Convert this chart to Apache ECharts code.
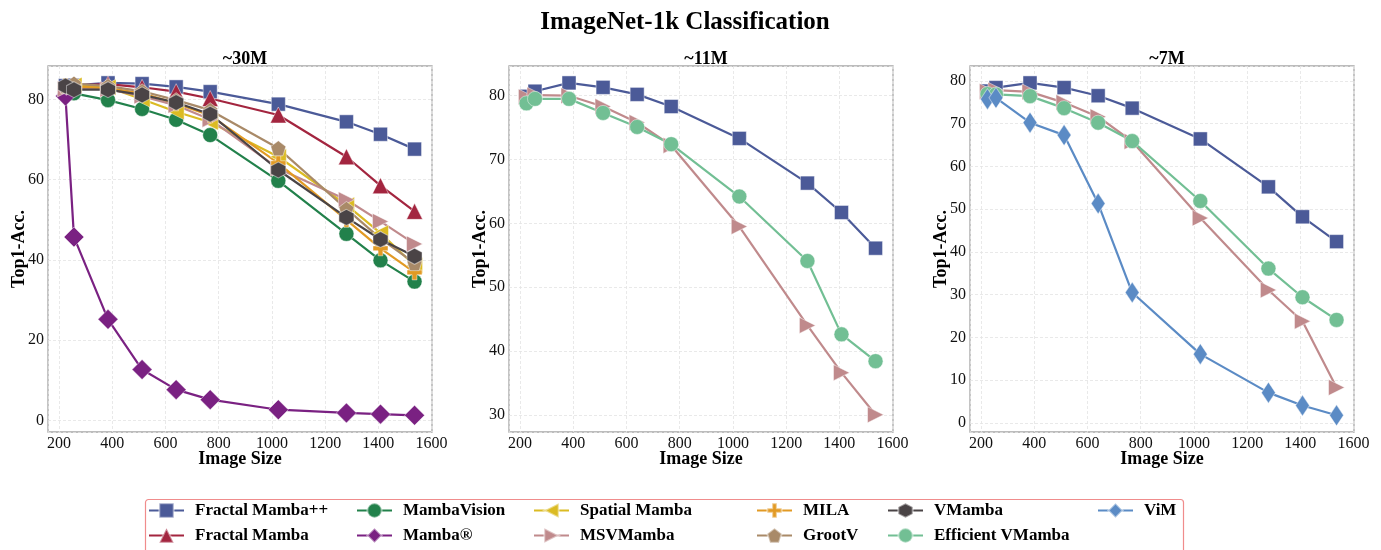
<!DOCTYPE html>
<html>
<head>
<meta charset="utf-8">
<script src="https://cdn.jsdelivr.net/npm/echarts@6/dist/echarts.min.js"></script>
<style>html,body{margin:0;padding:0;background:#fff}#c{width:1381px;height:550px}</style>
</head>
<body>
<div id="c"></div>
<script>
// ---------- data ----------
const imageSizes = [224, 256, 384, 512, 640, 768, 1024, 1280, 1408, 1536];
const xTicks = [200, 400, 600, 800, 1000, 1200, 1400, 1600];

// ~30M
const m30_fractalMambaPP = [83.4, 83.5, 84.1, 83.9, 83.1, 81.9, 78.8, 74.4, 71.3, 67.6];
const m30_fractalMamba   = [83.3, 83.5, 83.8, 83.0, 81.9, 80.2, 76.1, 65.7, 58.5, 52.1];
const m30_mambaVision    = [82.8, 81.5, 79.8, 77.6, 74.9, 71.1, 59.7, 46.5, 39.9, 34.6];
const m30_mambaR         = [80.8, 45.7, 25.2, 12.7, 7.7, 5.2, 2.7, 1.9, 1.6, 1.3];
const m30_spatialMamba   = [83.2, 83.5, 83.0, 80.0, 76.9, 74.3, 65.7, 53.7, 46.7, 38.6];
const m30_msvMamba       = [82.6, 83.0, 82.5, 80.8, 78.5, 75.0, 62.8, 55.0, 49.6, 44.0];
const m30_mila           = [83.4, 83.2, 82.8, 81.5, 79.0, 76.0, 64.1, 50.0, 42.9, 36.9];
const m30_grootV         = [83.3, 83.9, 83.3, 82.0, 79.8, 77.3, 67.8, 52.7, 45.3, 39.2];
const m30_vMamba         = [83.3, 82.4, 82.4, 81.1, 79.2, 76.3, 62.4, 50.6, 45.1, 40.9];

// ~11M
const m11_fractalMambaPP = [79.9, 80.7, 82.0, 81.3, 80.2, 78.3, 73.3, 66.3, 61.7, 56.1];
const m11_msvMamba       = [79.8, 80.1, 80.0, 78.3, 75.8, 72.2, 59.5, 44.0, 36.6, 30.0];
const m11_effVMamba      = [78.8, 79.5, 79.5, 77.3, 75.1, 72.4, 64.2, 54.1, 42.6, 38.4];

// ~7M
const m7_fractalMambaPP  = [77.6, 78.4, 79.5, 78.4, 76.5, 73.6, 66.4, 55.2, 48.2, 42.4];
const m7_msvMamba        = [77.5, 77.8, 77.4, 74.9, 71.6, 65.8, 47.9, 31.1, 23.8, 8.3];
const m7_effVMamba       = [76.9, 76.8, 76.4, 73.6, 70.2, 65.9, 51.9, 36.1, 29.4, 24.1];
const m7_viM             = [75.7, 76.0, 70.2, 67.3, 51.3, 30.5, 16.1, 7.1, 4.1, 1.8];

const panelTitles = ['~30M', '~11M', '~7M'];
const yTickSteps = [20, 10, 10];

// ---------- styles ----------
const FONT = '"Liberation Serif", "DejaVu Serif", serif';
const PLUS = 'path://M3.4,0H6.6V3.4H10V6.6H6.6V10H3.4V6.6H0V3.4H3.4Z';
const PENT = 'path://M5,0L9.755,3.455L7.939,9.045L2.061,9.045L0.245,3.455Z';
const HEX  = 'path://M5,0L9.33,2.5L9.33,7.5L5,10L0.67,7.5L0.67,2.5Z';

const styles = {
  'Fractal Mamba++':  {color: '#4b5a98', symbol: 'rect', size: 14, rot: 0},
  'Fractal Mamba':    {color: '#a3253f', symbol: 'triangle', size: 16, rot: 0},
  'MambaVision':      {color: '#22814b', symbol: 'circle', size: 15, rot: 0},
  'Mamba®':           {color: '#7a2182', symbol: 'diamond', size: [20, 20], rot: 0},
  'Spatial Mamba':    {color: '#dbbb23', symbol: 'triangle', size: 16, rot: 90},
  'MSVMamba':         {color: '#c08a8c', symbol: 'triangle', size: 16, rot: -90},
  'MILA':             {color: '#e29a24', symbol: PLUS, size: 15, rot: 0},
  'GrootV':           {color: '#a98a68', symbol: PENT, size: 15, rot: 0},
  'VMamba':           {color: '#4a4446', symbol: HEX, size: [15, 16], rot: 0},
  'Efficient VMamba': {color: '#72bf94', symbol: 'circle', size: 15, rot: 0},
  'ViM':              {color: '#5b8bc5', symbol: 'diamond', size: [14, 21], rot: 0}
};

const panels = [
  [['Fractal Mamba++', m30_fractalMambaPP], ['Fractal Mamba', m30_fractalMamba], ['MambaVision', m30_mambaVision],
   ['Mamba®', m30_mambaR], ['Spatial Mamba', m30_spatialMamba], ['MSVMamba', m30_msvMamba],
   ['MILA', m30_mila], ['GrootV', m30_grootV], ['VMamba', m30_vMamba]],
  [['Fractal Mamba++', m11_fractalMambaPP], ['MSVMamba', m11_msvMamba], ['Efficient VMamba', m11_effVMamba]],
  [['Fractal Mamba++', m7_fractalMambaPP], ['MSVMamba', m7_msvMamba], ['Efficient VMamba', m7_effVMamba], ['ViM', m7_viM]]
];

const legendOrder = ['Fractal Mamba++', 'Fractal Mamba', 'MambaVision', 'Mamba®', 'Spatial Mamba', 'MSVMamba',
                     'MILA', 'GrootV', 'VMamba', 'Efficient VMamba', 'ViM'];

// ---------- layout ----------
const gridLefts = [48, 509, 970];
const gridTop = 66, gridW = 384, gridH = 366;
const yRanges = [[-2.85, 88.3], [27.3, 84.65], [-2.1, 83.45]];
const ySplits = [5, 5, 8];

const grids = [], xAxes = [], yAxes = [], series = [], titles = [];
titles.push({text: 'ImageNet-1k Classification', left: 680, top: 5, textAlign: 'center',
  textStyle: {fontFamily: FONT, fontWeight: 'bold', fontSize: 25, color: '#000'}});

const splitLineStyle = {show: true, lineStyle: {color: '#e3e3e3', width: 0.8, type: [3, 2]}};

for (let p = 0; p < 3; p++) {
  grids.push({left: gridLefts[p], top: gridTop, width: gridW, height: gridH, show: true,
    borderColor: '#a6a6a6', borderWidth: 1.3, backgroundColor: 'transparent'});
  titles.push({text: panelTitles[p], left: gridLefts[p] + gridW / 2, top: 45, textAlign: 'center',
    textStyle: {fontFamily: FONT, fontWeight: 'bold', fontSize: 18, color: '#000'}});
  xAxes.push({type: 'value', gridIndex: p, min: 158.4, max: 1601.6, splitNumber: 7,
    name: 'Image Size', nameLocation: 'middle', nameGap: 18, nameMoveOverlap: false,
    nameTextStyle: {fontFamily: FONT, fontWeight: 'bold', fontSize: 18, color: '#000'},
    axisLine: {show: false}, axisTick: {show: false}, splitLine: splitLineStyle,
    axisLabel: {fontFamily: FONT, fontSize: 16, color: '#111', margin: 4, showMinLabel: false, showMaxLabel: false,
      formatter: v => (xTicks.indexOf(Math.round(v)) >= 0 && Math.abs(v - Math.round(v)) < 1e-6) ? String(Math.round(v)) : ''}});
  const step = yTickSteps[p];
  yAxes.push({type: 'value', gridIndex: p, min: yRanges[p][0], max: yRanges[p][1], splitNumber: ySplits[p],
    name: 'Top1-Acc.', nameLocation: 'middle', nameGap: 20, nameMoveOverlap: false,
    nameTextStyle: {fontFamily: FONT, fontWeight: 'bold', fontSize: 18, color: '#000'},
    axisLine: {show: false}, axisTick: {show: false}, splitLine: splitLineStyle,
    axisLabel: {fontFamily: FONT, fontSize: 16, color: '#111', margin: 4, showMinLabel: false, showMaxLabel: false,
      formatter: v => (Math.abs(v / step - Math.round(v / step)) < 1e-6) ? String(Math.round(v)) : ''}});
  panels[p].forEach(([name, vals]) => {
    const s = styles[name];
    series.push({
      name: name, type: 'line', xAxisIndex: p, yAxisIndex: p,
      data: imageSizes.map((x, i) => [x, vals[i]]),
      symbol: s.symbol, symbolSize: s.size, symbolRotate: s.rot, showAllSymbol: true,
      lineStyle: {color: s.color, width: 2.2},
      itemStyle: {color: s.color, borderColor: 'rgba(255,255,255,0.45)', borderWidth: 1, opacity: 1},
      emphasis: {disabled: true}, animation: false
    });
  });
}

// legends: 6 columns, 2 rows each, column-major order
const legendLefts = [148, 356, 533, 756, 887, 1097];
const legends = [];
for (let c = 0; c < 6; c++) {
  legends.push({
    data: legendOrder.slice(c * 2, c * 2 + 2), orient: 'vertical', left: legendLefts[c], top: 502,
    itemWidth: 35, itemHeight: 18, itemGap: 8, padding: 0, selectedMode: false,
    textStyle: {fontFamily: FONT, fontWeight: 'bold', fontSize: 17, color: '#000', padding: [0, 0, 0, 6]}
  });
}

const chart = echarts.init(document.getElementById('c'), null, {renderer: 'canvas'});
chart.setOption({
  animation: false,
  backgroundColor: '#fff',
  title: titles,
  grid: grids, xAxis: xAxes, yAxis: yAxes, series: series,
  legend: legends,
  graphic: [{type: 'rect', left: 143, top: 497, shape: {width: 1038, height: 60, r: 3},
    style: {fill: 'none', stroke: '#f08c8c', lineWidth: 1.2}, z: -1}]
});
</script>
</body>
</html>
